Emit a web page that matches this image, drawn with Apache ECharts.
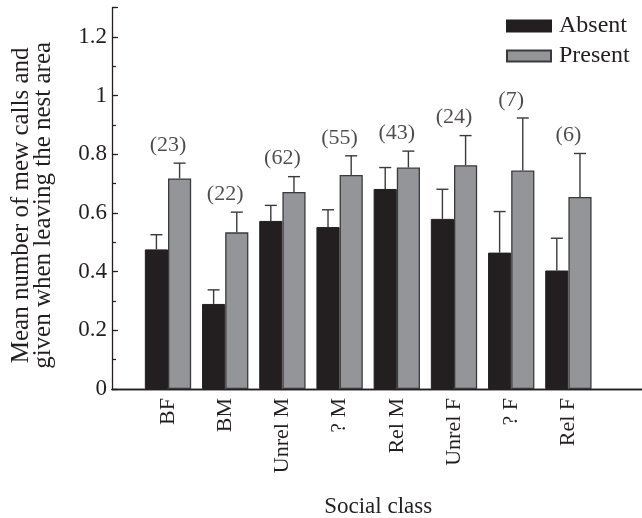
<!DOCTYPE html>
<html>
<head>
<meta charset="utf-8">
<script src="https://cdn.jsdelivr.net/npm/echarts@6/dist/echarts.min.js"></script>
<style>html,body{margin:0;padding:0;background:#fff}#c{width:642px;height:518px}</style>
</head>
<body>
<div id="c"></div>
<script>
const categories = ['BF', 'BM', 'Unrel M', '? M', 'Rel M', 'Unrel F', '? F', 'Rel F'];
const absentMean = [0.476, 0.290, 0.573, 0.552, 0.682, 0.580, 0.465, 0.404];
const absentUpper = [0.526, 0.338, 0.626, 0.611, 0.755, 0.681, 0.605, 0.514];
const presentMean = [0.718, 0.534, 0.672, 0.730, 0.755, 0.763, 0.745, 0.655];
const presentUpper = [0.770, 0.603, 0.724, 0.795, 0.811, 0.864, 0.924, 0.803];
const sampleSizes = ['(23)', '(22)', '(62)', '(55)', '(43)', '(24)', '(7)', '(6)'];
const yMin = 0, yMax = 1.3, yMajor = 0.2, yMinor = 0.1;

const FONT = 'Liberation Serif';
const FS = 22;
const TXT = '#231f20';

const errData = [];
categories.forEach((c, i) => {
  errData.push([i, absentMean[i], absentUpper[i], -1]);
  errData.push([i, presentMean[i], presentUpper[i], 1]);
});
const labelData = categories.map((c, i) => [i, Math.max(absentUpper[i], presentUpper[i])]);

const chart = echarts.init(document.getElementById('c'), null, {renderer: 'canvas'});
chart.setOption({
  animation: false,
  backgroundColor: '#fff',
  textStyle: {fontFamily: FONT, color: TXT},
  grid: [
    {left: 112, right: 0, top: 7.7, bottom: 129, containLabel: false, outerBoundsMode: 'none'},
    {left: 139.4, width: 457.6, top: 7.7, bottom: 129, containLabel: false, outerBoundsMode: 'none'}
  ],
  legend: {
    orient: 'vertical', left: 506, top: 14, itemWidth: 44, itemHeight: 11, itemGap: 6,
    padding: 0,
    icon: 'rect',
    data: ['Absent', 'Present'],
    textStyle: {fontFamily: FONT, fontSize: 24, color: TXT, padding: [0, 0, 0, 3]}
  },
  xAxis: [
    {gridIndex: 0, type: 'value', position: 'bottom', min: 0, max: 1,
      axisLine: {show: true, lineStyle: {color: TXT, width: 1.3}}, axisTick: {show: false},
      axisLabel: {show: false}, splitLine: {show: false}},
    {gridIndex: 0, type: 'value', position: 'top', min: 0, max: 1,
      axisLine: {show: true, lineStyle: {color: TXT, width: 1.3}}, axisTick: {show: false},
      axisLabel: {show: false}, splitLine: {show: false}},
    {gridIndex: 1, type: 'category', data: categories,
      axisLine: {show: false}, axisTick: {show: false},
      axisLabel: {rotate: 90, fontFamily: FONT, fontSize: FS, color: TXT, margin: 9, interval: 0},
      name: 'Social class', nameLocation: 'middle', nameGap: 106,
      nameTextStyle: {fontFamily: FONT, fontSize: 23, color: TXT, padding: [0, 0, 0, 20]}}
  ],
  yAxis: [
    {gridIndex: 0, type: 'value', min: yMin, max: yMax, interval: yMajor,
      axisLine: {show: true, lineStyle: {color: TXT, width: 1.3}},
      axisTick: {show: true, inside: true, length: 6, lineStyle: {color: TXT, width: 1.2}},
      axisLabel: {fontFamily: FONT, fontSize: 23, color: TXT, margin: 5,
        formatter: v => (Math.abs(v / yMajor - Math.round(v / yMajor)) < 1e-6 ? String(Math.round(v * 10) / 10) : '')},
      splitLine: {show: false},
      name: 'Mean number of mew calls and\ngiven when leaving the nest area',
      nameLocation: 'middle', nameGap: 58,
      nameTextStyle: {fontFamily: FONT, fontSize: 25, color: TXT, lineHeight: 22, padding: [0, 14, 0, 0]}},
    {gridIndex: 0, type: 'value', min: yMin, max: yMax, interval: yMinor,
      axisLine: {show: false}, position: 'left',
      axisTick: {show: true, inside: true, length: 4, lineStyle: {color: TXT, width: 1.2}},
      axisLabel: {show: false}, splitLine: {show: false}},
    {gridIndex: 1, type: 'value', min: yMin, max: yMax, show: false}
  ],
  series: [
    {name: 'Absent', type: 'bar', xAxisIndex: 2, yAxisIndex: 2, data: absentMean,
      barGap: '0%', barCategoryGap: '19%',
      itemStyle: {color: '#231f20', borderColor: '#231f20', borderWidth: 1}},
    {name: 'Present', type: 'bar', xAxisIndex: 2, yAxisIndex: 2, data: presentMean,
      barGap: '0%', barCategoryGap: '19%',
      itemStyle: {color: '#939598', borderColor: '#3a3a3c', borderWidth: 1.3}},
    {name: 'err', type: 'custom', xAxisIndex: 2, yAxisIndex: 2, data: errData, z: 1,
      renderItem: function (params, api) {
        const i = api.value(0);
        const band = api.size([1, 0])[0];
        const barW = band * 0.81 / 2;
        const side = api.value(3);
        const p0 = api.coord([i, api.value(1)]);
        const p1 = api.coord([i, api.value(2)]);
        const x = p0[0] + side * barW / 2;
        const cap = 6;
        const st = {stroke: '#3a3a3c', lineWidth: 1.4};
        return {type: 'group', children: [
          {type: 'line', shape: {x1: x, y1: p0[1], x2: x, y2: p1[1]}, style: st},
          {type: 'line', shape: {x1: x - cap, y1: p1[1], x2: x + cap, y2: p1[1]}, style: st}
        ]};
      }},
    {name: 'n', type: 'scatter', xAxisIndex: 2, yAxisIndex: 2, data: labelData,
      symbolSize: 0, silent: true,
      label: {show: true, position: 'top', distance: 7, fontFamily: FONT, fontSize: FS, color: TXT,
        formatter: p => sampleSizes[p.dataIndex]}}
  ]
});
</script>
</body>
</html>
